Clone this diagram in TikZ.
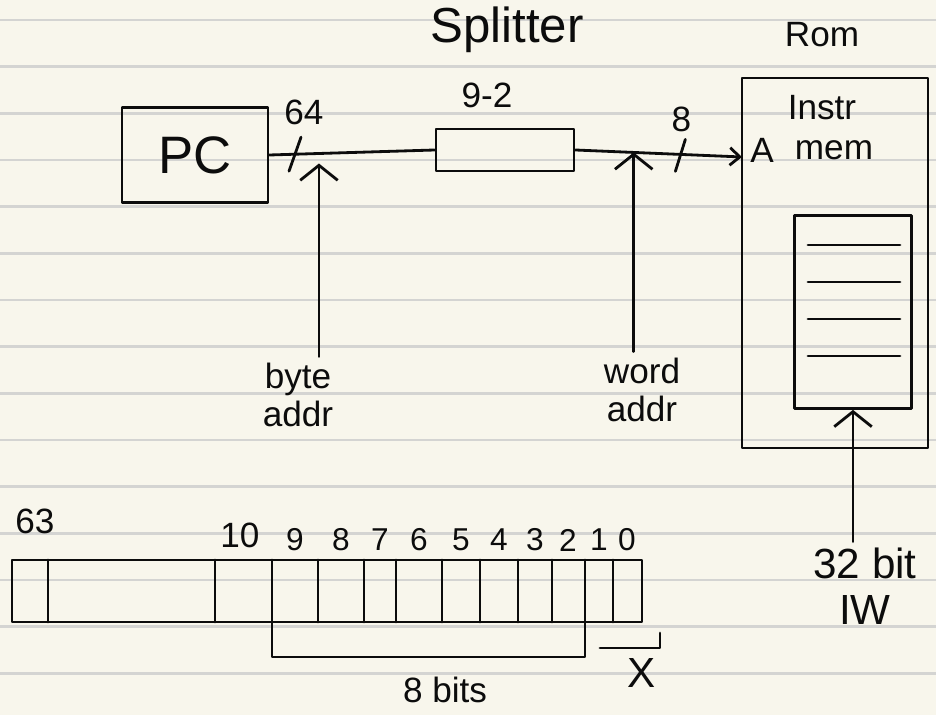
\documentclass[tikz,border=0pt]{standalone}
\usepackage{fontspec}
\setmainfont{Liberation Sans}
\usetikzlibrary{arrows.meta,calc}
\definecolor{paper}{RGB}{248,246,236}
\definecolor{ruling}{RGB}{212,212,210}
\definecolor{ink}{RGB}{12,12,12}

\begin{document}
\begin{tikzpicture}[x=0.02cm,y=-0.02cm,
    pen/.style={draw=ink,line width=1.6pt,line cap=round,line join=round},
    box/.style={pen,rectangle,inner sep=0pt},
    arr/.style={pen,-{Straight Barb[length=3mm,width=7.5mm]}},
    txt/.style={font=\fontsize{20}{22}\selectfont,text=ink,align=center},
    txtbig/.style={font=\fontsize{24}{26}\selectfont,text=ink,align=center},
    txtsmall/.style={font=\fontsize{18}{18}\selectfont,text=ink}]
  % paper
  \fill[paper] (0,0) rectangle (936,715);
  \useasboundingbox (0,0) rectangle (936,715);
  \foreach \k in {0,...,14}
    \draw[ruling,line width=1.5pt] (0,20+46.67*\k) -- (936,20+46.67*\k);

  % pc -> splitter -> rom
  \node[box,minimum width=2.92cm,minimum height=1.9cm,text=ink,
        font=\fontsize{30}{30}\selectfont] (pc) at (195,155) {PC};
  \node[box,minimum width=2.76cm,minimum height=0.84cm] (split) at (505,150) {};
  \node[txt,font=\fontsize{28}{28}\selectfont] (splitname) at (507,30) {Splitter};
  \node[txt] (range) at (487,95) {9-2};
  \node[box,minimum width=3.72cm,minimum height=7.4cm] (rom) at (835,263) {};
  \node[txt] (romname) at (822,35) {Rom};
  \node[txt] (instr) at (822,108) {Instr};
  \node[txt] (memname) at (834,150) {mem};
  \node[txt] (aport) at (762,150) {A};
  \coordinate (ain) at (742,157);

  % memory array
  \node[box,minimum width=2.34cm,minimum height=3.86cm] (mem) at (853,312) {};
  \foreach \y in {245,282,319,356}
    \draw[pen] (808,\y) -- (900,\y);

  \draw[pen] (pc.east) -- (split.west);
  \draw[pen,-{Straight Barb[length=2mm,width=3.5mm]}] (split.east) -- (ain);
  \coordinate (s64) at ($(pc.east)!0.155!(split.west)$);
  \coordinate (btap) at ($(pc.east)!0.3!(split.west)$);
  \coordinate (wtap) at ($(split.east)!0.35!(ain)$);
  \coordinate (s8) at ($(split.east)!0.63!(ain)$);

  % bus widths
  \draw[pen] ($(s64)+(6,-17)$) -- ($(s64)+(-6,17)$);
  \node[txt] (w64) at ($(s64)+(9,-42)$) {64};
  \draw[pen] ($(s8)+(5,-15)$) -- ($(s8)+(-5,17)$);
  \node[txt] (w8) at ($(s8)+(1,-35)$) {8};

  % address labels
  \node[txt] (byte) at (298,395) {byte\\addr};
  \draw[arr,shorten >=0.2cm] (btap |- byte.north) -- (btap);
  \node[txt] (word) at (642,390) {word\\addr};
  \draw[arr] (wtap |- word.north) -- (wtap);
  \node[txtbig] (iw) at (865,586) {32 bit\\IW};
  \draw[arr] (mem.south |- iw.north) -- (mem.south);

  % address bits
  \draw[pen] (12,560) rectangle (642,622);
  \foreach \x in {48,215,318,364,396,442,480,518,552,585,613}
    \draw[pen] (\x,560) -- (\x,622);
  \draw[pen] (272,560) |- (585,657) -- (585,622);
  \draw[pen] (600,648) -- (660,648) -- (660,633);
  \node[txt] (b63) at (35,521) {63};
  \node[txt] (b10) at (240,535) {10};
  \foreach \x/\b in {295/9,341/8,380/7,419/6,461/5,499/4,535/3,568/2,599/1,627/0}
    \node[txtsmall] (b\b) at (\x,540) {\b};
  \node[txt] (bits) at (445,690) {8 bits};
  \node[txtbig] (lowx) at (642,673) {X};
\end{tikzpicture}
\end{document}
